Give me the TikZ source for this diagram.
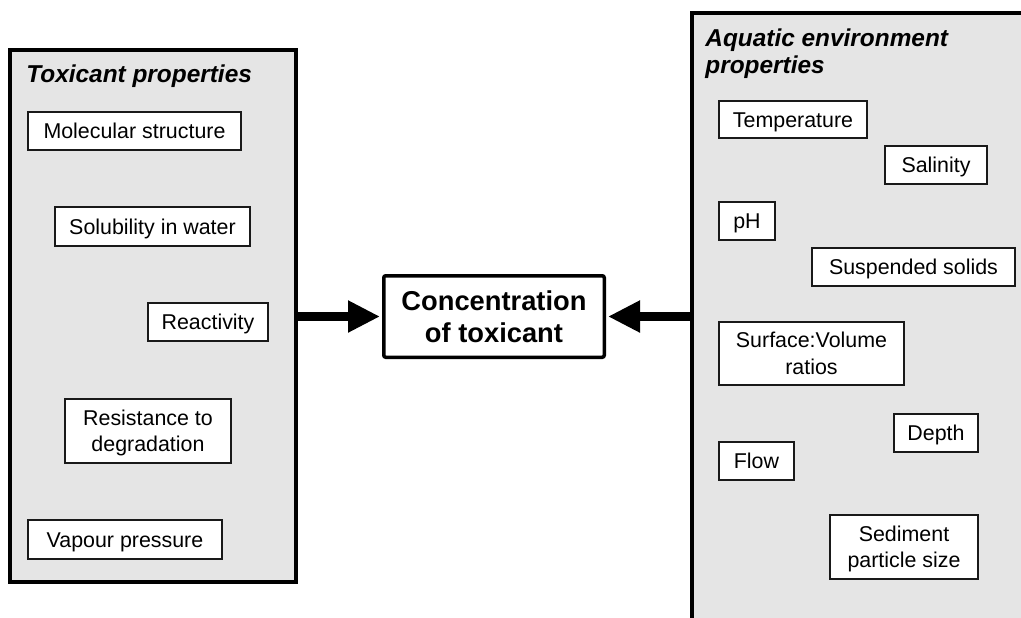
\documentclass[tikz,border=0pt]{standalone}
\usepackage{fontspec}
\setmainfont{Liberation Sans}
\usetikzlibrary{arrows.meta}
\begin{document}
\begin{tikzpicture}[x=0.5pt,y=-0.5pt,
  panel/.style={draw=black, line width=2pt, fill=black!10, inner sep=0pt},
  item/.style={draw=black!90, line width=0.6pt, fill=white, inner sep=0pt,
    font=\fontsize{10.7}{13.3}\selectfont, align=center},
  oneline/.style={text height=7.6pt, text depth=0pt},
  twoline/.style={text height=20.9pt, text depth=0pt},
  paneltitle/.style={font=\fontsize{12.2}{13.5}\selectfont\bfseries\itshape,
    inner sep=0pt, align=left},
  centrebox/.style={draw=black, line width=1.75pt, rounded corners=1pt, fill=white,
    inner sep=0pt, align=center, font=\fontsize{13.65}{16.2}\selectfont\bfseries},
  bigarrow/.style={line width=4.5pt, -{Triangle[length=16pt,width=15pt]}, shorten >=1pt},
]
\useasboundingbox (0,0) rectangle (1021,617);
\fill[white] (0,0) rectangle (1021,617);
\begin{scope}
  \clip (0,0) rectangle (1021,617);
  \node[panel, minimum width=143pt, minimum height=266.25pt] (lp) at (152.5,315.75) {};
  \node[panel, minimum width=179pt, minimum height=318.5pt] (rp) at (871,331.5) {};
\end{scope}

\node[paneltitle, anchor=base west] (lt) at (26,82) {Toxicant properties};
\node[paneltitle, anchor=north west] (rt) at (705,28) {Aquatic environment\\properties};

% left items
\node[item, oneline, minimum width=106.5pt, minimum height=19pt] (mol) at (134.5,131) {Molecular structure};
\node[item, oneline, minimum width=97.5pt, minimum height=19.5pt] (sol) at (152.5,226.5) {Solubility in water};
\node[item, oneline, minimum width=60pt, minimum height=19pt] (rea) at (208,322) {Reactivity};
\node[item, twoline, minimum width=83pt, minimum height=32pt] (res) at (148,431) {Resistance to\\degradation};
\node[item, oneline, minimum width=97pt, minimum height=19.5pt] (vap) at (125,539.5) {Vapour pressure};

% right items
\node[item, oneline, minimum width=74pt, minimum height=18.5pt] (tem) at (793,119.5) {Temperature};
\node[item, oneline, minimum width=51pt, minimum height=19pt] (sal) at (936,165) {Salinity};
\node[item, oneline, minimum width=28pt, minimum height=19pt] (ph) at (747,221) {pH};
\node[item, oneline, minimum width=101.5pt, minimum height=19pt] (sus) at (913.5,267) {Suspended solids};
\node[item, twoline, minimum width=92.5pt, minimum height=31.5pt] (sur) at (811.5,353.5) {Surface:Volume\\ratios};
\node[item, oneline, minimum width=42pt, minimum height=19pt] (dep) at (936,433) {Depth};
\node[item, oneline, minimum width=37.5pt, minimum height=19pt] (flo) at (756.5,461) {Flow};
\node[item, twoline, minimum width=74pt, minimum height=32pt] (sed) at (904,547) {Sediment\\particle size};

% centre
\node[centrebox, minimum width=110.25pt, minimum height=40.75pt] (conc) at (494,316.5) {Concentration\\of toxicant};

\draw[bigarrow] (lp.east |- conc.west) -- (conc.west);
\draw[bigarrow] (rp.west |- conc.east) -- (conc.east);
\end{tikzpicture}
\end{document}
